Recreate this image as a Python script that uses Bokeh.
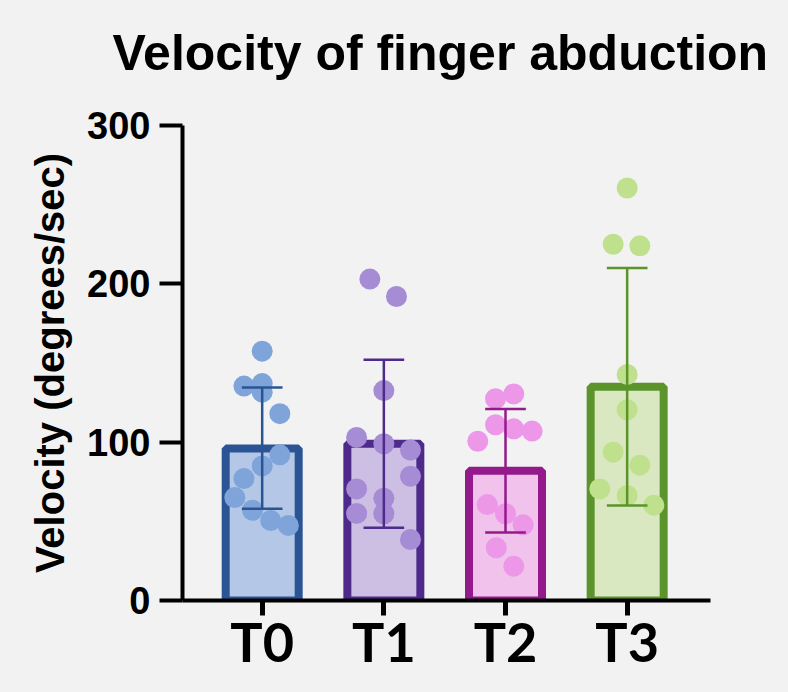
from bokeh.plotting import figure
from bokeh.models import Range1d, FixedTicker, ColumnDataSource, LinearAxis, Title
from bokeh.embed import file_html
from bokeh.resources import INLINE

# ---------------- data ----------------
categories = ["T0", "T1", "T2", "T3"]
bar_means = [96, 99, 82, 135]
sd_upper = [134.5, 152, 121, 210]
sd_lower = [58, 46, 43, 60]

t0_values = [157.5, 137, 135.4, 131.6, 118, 92, 85, 77, 65, 57, 50.5, 47.4]
t1_values = [203, 192, 132.6, 103, 99, 95, 78.5, 70.5, 64.6, 55, 54.8, 38.5]
t2_values = [130.5, 127.4, 111, 108.4, 107, 100.6, 60.6, 54.8, 47.8, 33.3, 21.7]
t3_values = [260.5, 225, 224, 142.8, 120.5, 93.7, 85.5, 70.5, 66.3, 60.2]

# horizontal scatter of points within each category (category units)
t0_jitter = [0, 0, -0.15, 0, 0.145, 0.145, 0, -0.15, -0.225, -0.08, 0.07, 0.215]
t1_jitter = [-0.115, 0.104, 0, -0.224, 0, 0.219, 0.219, -0.224, 0, -0.224, 0, 0.219]
t2_jitter = [0.068, -0.082, -0.082, 0.068, 0.219, -0.228, -0.15, 0, 0.145, -0.076, 0.068]
t3_jitter = [0, -0.115, 0.104, 0, 0, -0.115, 0.104, -0.225, 0, 0.219]

y_ticks = [0, 100, 200, 300]
title_text = "Velocity of finger abduction"
y_label = "Velocity (degrees/sec)"

# ---------------- styles ----------------
BG = "#F2F2F2"
border_colors = ["#2B5494", "#4E2A8A", "#941A8C", "#5A942B"]
fill_colors = ["#B4C7E6", "#CDBFE3", "#F0C2EC", "#DAE8C1"]
point_colors = ["#7EA4DA", "#A68BD5", "#EC97E8", "#BFE08C"]

xs = list(range(len(categories)))

p = figure(width=772, height=676, output_backend="svg", toolbar_location=None,
           x_range=Range1d(-0.655, 3.685), y_range=Range1d(0, 300),
           min_border_left=182, min_border_right=62,
           min_border_top=125, min_border_bottom=76,
           background_fill_color=BG, border_fill_color=BG,
           outline_line_color=None)
p.grid.visible = False
p.title.text = ""

xa = p.below[0]
ya = p.left[0]

# spacer axis between frame and title: one background-coloured tick, no line, no label
spacer = LinearAxis(ticker=FixedTicker(ticks=[-0.6]), axis_line_color=None,
                    major_tick_line_color=BG, major_tick_line_width=1,
                    minor_tick_line_color=None,
                    major_tick_out=45, major_tick_in=0, minor_tick_out=0,
                    major_label_overrides={-0.6: ""},
                    major_label_standoff=0, major_label_text_font_size="1px",
                    major_label_text_alpha=0)
p.add_layout(spacer, "above")

p.add_layout(Title(text=title_text, text_font="Liberation Sans", text_font_style="bold",
                   text_font_size="50px", align="left", offset=-70,
                   text_color="black", standoff=0), "above")

bars = ColumnDataSource(dict(x=xs, top=bar_means, lower=sd_lower, upper=sd_upper,
                             fill=fill_colors, border=border_colors))

p.vbar(x="x", top="top", bottom=0, width=0.6, source=bars,
       fill_color="fill", line_color="border", line_width=8)

groups = [(t0_values, t0_jitter), (t1_values, t1_jitter),
          (t2_values, t2_jitter), (t3_values, t3_jitter)]
for i, (vals, jit) in enumerate(groups):
    p.scatter(x=[xs[i] + j for j in jit], y=vals, size=21,
              fill_color=point_colors[i], line_color=None)

cap = 0.167
p.segment(x0="x", y0="lower", x1="x", y1="upper", source=bars,
          line_color="border", line_width=2.5)
p.segment(x0=[x - cap for x in xs], y0=sd_upper, x1=[x + cap for x in xs], y1=sd_upper,
          line_color=border_colors, line_width=2.5)
p.segment(x0=[x - cap for x in xs], y0=sd_lower, x1=[x + cap for x in xs], y1=sd_lower,
          line_color=border_colors, line_width=2.5)

# x axis
xa.ticker = FixedTicker(ticks=xs)
xa.major_label_overrides = {x: c for x, c in zip(xs, categories)}
xa.axis_line_width = 4
xa.axis_line_color = "black"
xa.major_tick_line_width = 5
xa.major_tick_line_color = "black"
xa.major_tick_out = 15
xa.major_tick_in = 0
xa.minor_tick_line_color = None
xa.major_label_text_font = "Lato"
xa.major_label_text_font_style = "bold"
xa.major_label_text_font_size = "54px"
xa.major_label_text_color = "black"
xa.major_label_standoff = -7

# y axis
ya.ticker = FixedTicker(ticks=y_ticks)
ya.axis_line_width = 4
ya.axis_line_color = "black"
ya.major_tick_line_width = 4
ya.major_tick_line_color = "black"
ya.major_tick_out = 23
ya.major_tick_in = 0
ya.minor_tick_line_color = None
ya.major_label_text_font = "Liberation Sans"
ya.major_label_text_font_style = "bold"
ya.major_label_text_font_size = "38px"
ya.major_label_text_color = "black"
ya.major_label_standoff = 9
ya.axis_label = y_label
ya.axis_label_text_font = "Liberation Sans"
ya.axis_label_text_font_style = "bold"
ya.axis_label_text_font_size = "40px"
ya.axis_label_text_color = "black"
ya.axis_label_standoff = 12

html = file_html(p, INLINE)
html = html.replace("</head>", "<style>html, body { background-color: #F2F2F2; }</style></head>", 1)
open("out.html", "w").write(html)
